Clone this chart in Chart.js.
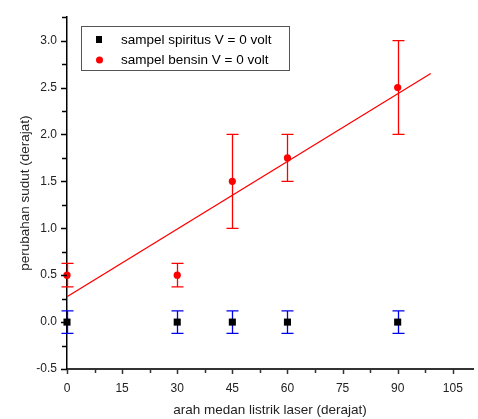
<!DOCTYPE html>
<html>
<head>
<meta charset="utf-8">
<script src="https://cdn.jsdelivr.net/npm/chart.js@4/dist/chart.umd.min.js"></script>
<style>
  html, body { margin: 0; padding: 0; background: #fff; }
  #wrap { width: 478px; height: 419px; }
</style>
</head>
<body>
<div id="wrap"><canvas id="myChart" width="478" height="419"></canvas></div>
<script>
// data
var angles = [0, 30, 45, 60, 90];
var spiritus = [0, 0, 0, 0, 0];
var spiritusErr = [0.12, 0.12, 0.12, 0.12, 0.12];
var bensin = [0.5, 0.5, 1.5, 1.75, 2.5];
var bensinErr = [0.125, 0.125, 0.5, 0.25, 0.5];
var fitX = [0, 99];
var fitY = [0.27, 2.65];
var xTicks = [0, 15, 30, 45, 60, 75, 90, 105];
var yTicks = [-0.5, 0, 0.5, 1.0, 1.5, 2.0, 2.5, 3.0];

var FONT = 'Liberation Sans, Arial, sans-serif';

function pts(xs, ys) {
  return xs.map(function (x, i) { return { x: x, y: ys[i] }; });
}

// error bars drawn under the markers
var errorBars = {
  id: 'errorBars',
  beforeDatasetsDraw: function (chart) {
    var ctx = chart.ctx;
    var xs = chart.scales.x, ys = chart.scales.y;
    chart.data.datasets.forEach(function (ds) {
      if (!ds.errors) return;
      ctx.save();
      ctx.strokeStyle = ds.errorColor;
      ctx.lineWidth = 1.3;
      ds.data.forEach(function (p, i) {
        var px = Math.round(xs.getPixelForValue(p.x)) + 0.5;
        var top = ys.getPixelForValue(p.y + ds.errors[i]);
        var bot = ys.getPixelForValue(p.y - ds.errors[i]);
        ctx.beginPath();
        ctx.moveTo(px, top); ctx.lineTo(px, bot);
        ctx.moveTo(px - 6, top); ctx.lineTo(px + 6, top);
        ctx.moveTo(px - 6, bot); ctx.lineTo(px + 6, bot);
        ctx.stroke();
      });
      ctx.restore();
    });
  }
};

// outward major + minor ticks
var axisTicks = {
  id: 'axisTicks',
  afterDraw: function (chart) {
    var ctx = chart.ctx;
    var xs = chart.scales.x, ys = chart.scales.y;
    var a = chart.chartArea;
    ctx.save();
    ctx.strokeStyle = '#333';
    ctx.lineWidth = 1.5;
    ctx.beginPath();
    for (var v = 0; v <= xs.max; v += 7.5) {
      var px = Math.round(xs.getPixelForValue(v)) + 0.5;
      var len = (v % 15 === 0) ? 5 : 4;
      ctx.moveTo(px, a.bottom); ctx.lineTo(px, a.bottom + len);
    }
    ctx.stroke();
    ctx.strokeStyle = '#000';
    ctx.beginPath();
    for (var w = -0.5; w <= ys.max + 0.001; w += 0.25) {
      var py = Math.round(ys.getPixelForValue(w)) + 0.5;
      var l2 = (Math.abs(w * 2 - Math.round(w * 2)) < 0.01) ? 6 : 5;
      ctx.moveTo(a.left, py); ctx.lineTo(a.left - l2, py);
    }
    ctx.stroke();
    ctx.restore();
  }
};

// legend box inside the plot
var boxLegend = {
  id: 'boxLegend',
  afterDraw: function (chart) {
    var ctx = chart.ctx;
    ctx.save();
    ctx.fillStyle = '#fff';
    ctx.fillRect(81, 26, 208, 44);
    ctx.strokeStyle = '#555';
    ctx.lineWidth = 1;
    ctx.strokeRect(81.5, 26.5, 208, 44);
    ctx.fillStyle = '#000';
    ctx.fillRect(96, 36, 6, 7);
    ctx.fillStyle = '#ff0000';
    ctx.beginPath();
    ctx.arc(99.5, 60, 3.5, 0, Math.PI * 2);
    ctx.fill();
    ctx.fillStyle = '#000';
    ctx.font = '13.5px ' + FONT;
    ctx.textBaseline = 'middle';
    ctx.fillText('sampel spiritus V = 0 volt', 121, 40);
    ctx.fillText('sampel bensin V = 0 volt', 121, 60);
    ctx.restore();
  }
};

var ctx = document.getElementById('myChart').getContext('2d');

var myChart = new Chart(ctx, {
  type: 'scatter',
  data: {
    datasets: [
      {
        label: 'fit',
        type: 'line',
        data: pts(fitX, fitY),
        borderColor: '#ff0000',
        borderWidth: 1.3,
        pointRadius: 0,
        fill: false
      },
      {
        label: 'sampel spiritus V = 0 volt',
        data: pts(angles, spiritus),
        errors: spiritusErr,
        errorColor: '#0000ee',
        pointStyle: 'rect',
        pointRadius: 5,
        backgroundColor: '#000',
        borderColor: '#000',
        borderWidth: 0,
        clip: false
      },
      {
        label: 'sampel bensin V = 0 volt',
        data: pts(angles, bensin),
        errors: bensinErr,
        errorColor: '#ff0000',
        pointStyle: 'circle',
        pointRadius: 3.6,
        backgroundColor: '#ff0000',
        borderColor: '#ff0000',
        borderWidth: 0,
        clip: false
      }
    ]
  },
  plugins: [errorBars, axisTicks, boxLegend],
  options: {
    responsive: false,
    animation: false,
    layout: { padding: { top: 11, right: 0, left: 0, bottom: 0 } },
    plugins: {
      legend: { display: false },
      tooltip: { enabled: false }
    },
    scales: {
      x: {
        type: 'linear',
        min: 0,
        max: 110.5,
        afterBuildTicks: function (s) { s.ticks = xTicks.map(function (v) { return { value: v }; }); },
        afterFit: function (s) { s.height = 50; },
        grid: { display: false, drawTicks: false },
        border: { display: true, color: '#333', width: 2 },
        ticks: {
          color: '#222',
          font: { family: FONT, size: 12 },
          padding: 12,
          maxRotation: 0
        },
        title: {
          display: true,
          text: 'arah medan listrik laser (derajat)',
          color: '#222',
          font: { family: FONT, size: 13.5 },
          padding: { top: 4, bottom: 1 }
        }
      },
      y: {
        type: 'linear',
        min: -0.5,
        max: 3.25,
        afterBuildTicks: function (s) { s.ticks = yTicks.map(function (v) { return { value: v }; }); },
        afterFit: function (s) { s.width = 67; },
        grid: { display: false, drawTicks: false },
        border: { display: true, color: '#000', width: 1.5 },
        ticks: {
          color: '#222',
          font: { family: FONT, size: 12 },
          padding: 10,
          callback: function (v) { return v.toFixed(1); }
        },
        title: {
          display: true,
          text: 'perubahan sudut (derajat)',
          color: '#222',
          font: { family: FONT, size: 13.5 },
          padding: { top: 17, bottom: 0 }
        }
      }
    }
  }
});
</script>
</body>
</html>
